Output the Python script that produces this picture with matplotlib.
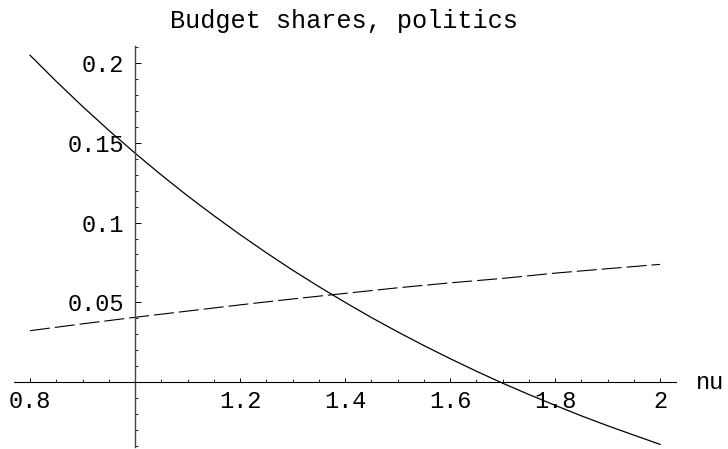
import numpy as np
import matplotlib
matplotlib.use("Agg")
import matplotlib.pyplot as plt
from matplotlib.ticker import FixedLocator, MultipleLocator

plt.rcParams["font.family"] = ["Liberation Mono", "DejaVu Sans Mono"]

# budget share for politics vs nu (solid curve)
nu_solid = [0.80, 0.85, 0.90, 0.95, 1.00, 1.05, 1.10, 1.15, 1.20, 1.25,
            1.30, 1.35, 1.40, 1.45, 1.50, 1.55, 1.60, 1.65, 1.70, 1.75,
            1.80, 1.85, 1.90, 1.95, 2.00]
share_solid = [0.2050, 0.1886, 0.1729, 0.1579, 0.1436, 0.1299, 0.1168,
               0.1044, 0.0925, 0.0811, 0.0702, 0.0599, 0.0500, 0.0405,
               0.0315, 0.0229, 0.0147, 0.0068, -0.0007, -0.0078, -0.0146,
               -0.0212, -0.0274, -0.0333, -0.0391]

# second share (dashed curve)
nu_dashed = [0.8, 0.9, 1.0, 1.1, 1.2, 1.3, 1.4, 1.5, 1.6, 1.7, 1.8, 1.9, 2.0]
share_dashed = [0.0322, 0.0365, 0.0406, 0.0445, 0.0484, 0.0521, 0.0556,
                0.0591, 0.0622, 0.0650, 0.0683, 0.0711, 0.0738]

x_ticks = [0.8, 1.2, 1.4, 1.6, 1.8, 2.0]
x_labels = ["0.8", "1.2", "1.4", "1.6", "1.8", "2"]
y_ticks = [0.05, 0.1, 0.15, 0.2]
y_labels = ["0.05", "0.1", "0.15", "0.2"]

fig = plt.figure(figsize=(7.28, 4.49), dpi=100)
ax = fig.add_axes([0.0196, 0.0036, 0.9087, 0.8947])

ax.plot(nu_solid, share_solid, color="black", lw=0.9)
ax.plot(nu_dashed, share_dashed, color="black", lw=0.8,
        linestyle=(0, (18, 4.5)))

ax.set_xlim(0.77, 2.03)
ax.set_ylim(-0.041, 0.211)

# axes cross at (1, 0)
for side in ("top", "right"):
    ax.spines[side].set_visible(False)
ax.spines["left"].set_position(("data", 1.0))
ax.spines["bottom"].set_position(("data", 0.0))
ax.spines["left"].set_color("#444444")
ax.spines["left"].set_linewidth(1.0)
ax.spines["bottom"].set_linewidth(0.8)

ax.xaxis.set_major_locator(FixedLocator(x_ticks))
ax.set_xticklabels(x_labels)
ax.xaxis.set_minor_locator(MultipleLocator(0.05))
ax.yaxis.set_major_locator(FixedLocator(y_ticks))
ax.set_yticklabels(y_labels)
ax.yaxis.set_minor_locator(MultipleLocator(0.01))

ax.tick_params(axis="x", which="major", direction="in", length=3,
               width=0.7, labelsize=17, pad=6)
ax.tick_params(axis="x", which="minor", direction="in", length=2,
               width=0.6)
ax.tick_params(axis="y", which="major", direction="in", length=4,
               width=0.7, labelsize=17, pad=8)
ax.tick_params(axis="y", which="minor", direction="in", length=2.5,
               width=0.6)

ax.text(2.068, 0.0, "nu", fontsize=17, ha="left", va="center",
        clip_on=False)
fig.text(344 / 728, 1 - 21 / 449, "Budget shares, politics", fontsize=18.2,
         ha="center", va="center")

fig.savefig("out.png", dpi=100)
